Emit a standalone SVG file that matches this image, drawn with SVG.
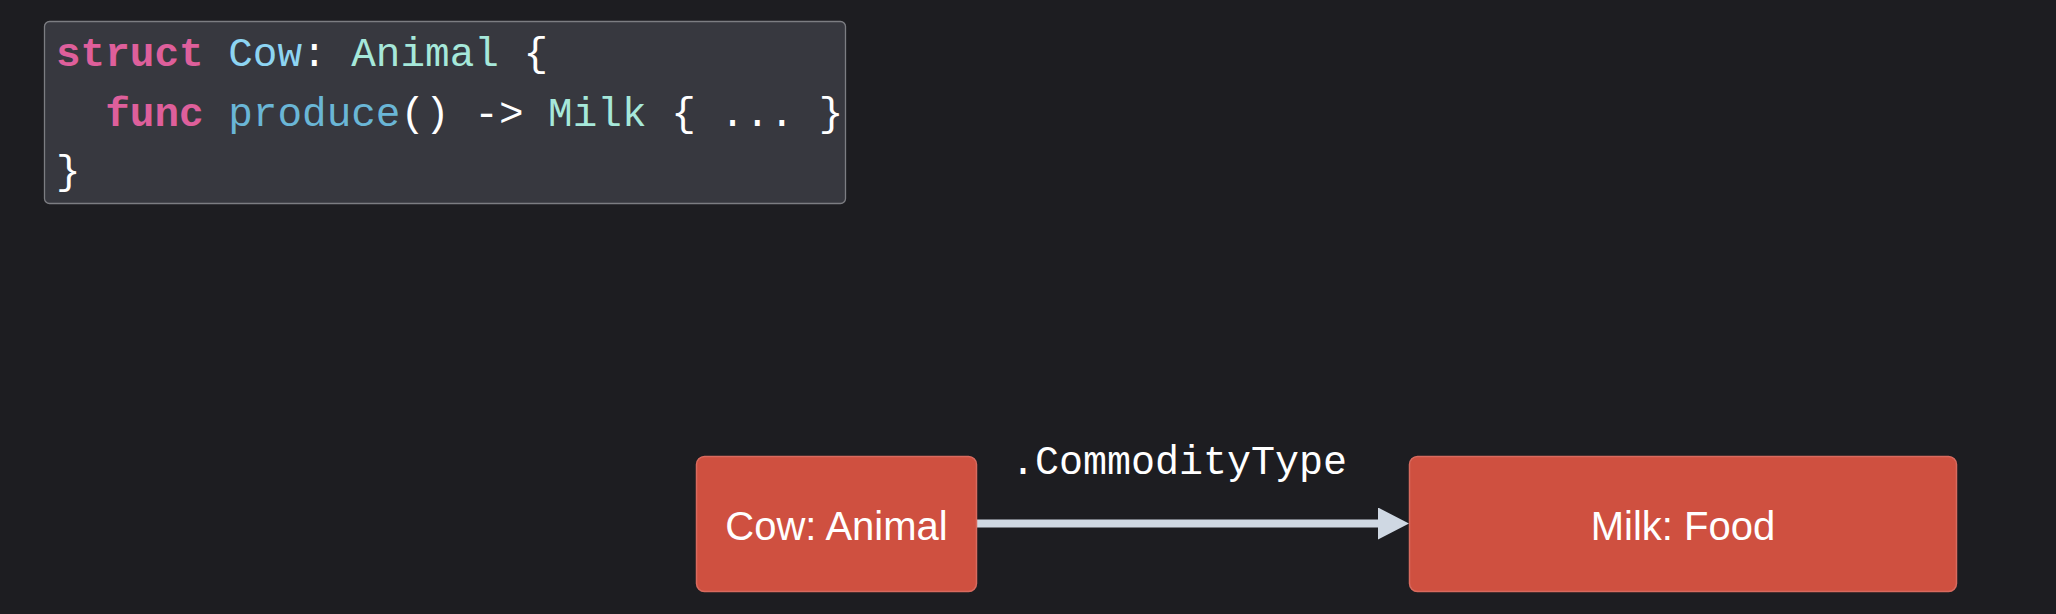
<svg xmlns="http://www.w3.org/2000/svg" width="2056" height="614" viewBox="0 0 2056 614">
<defs>
<style>
.code{font-family:"Liberation Mono","DejaVu Sans Mono",monospace;font-size:41px;fill:#ffffff;}
.kw{fill:#de5f9b;font-weight:bold;}
.ty{fill:#8dd4f2;}
.tr{fill:#a6e8da;}
.fn{fill:#6ab6d6;}
.node rect{fill:#cf5040;stroke:#d86a5e;stroke-width:1.5;}
.node text{font-family:"Liberation Sans","Arial",sans-serif;font-size:40px;fill:#ffffff;text-anchor:middle;}
.lbl{font-family:"Liberation Mono","DejaVu Sans Mono",monospace;font-size:40px;fill:#ffffff;}
</style>
<marker id="arr" markerWidth="32" markerHeight="32" refX="7" refY="16" orient="auto" markerUnits="userSpaceOnUse">
<path d="M0,0 L31,16 L0,32 Z" fill="#cfd8e3"/>
</marker>
</defs>
<rect width="2056" height="614" fill="#1d1d21"/>
<g id="code">
<rect x="44.5" y="21.5" width="801" height="182" rx="5" fill="#37383f" stroke="#7c7d82" stroke-width="1.3"/>
<text class="code" x="56" y="66" xml:space="preserve"><tspan class="kw">struct</tspan> <tspan class="ty">Cow</tspan>: <tspan class="tr">Animal</tspan> {</text>
<text class="code" x="56" y="126" xml:space="preserve">  <tspan class="kw">func</tspan> <tspan class="fn">produce</tspan>() -&gt; <tspan class="tr">Milk</tspan> { ... }</text>
<text class="code" x="56" y="184">}</text>
</g>
<g id="connectors">
<line x1="976" y1="523.5" x2="1385" y2="523.5" stroke="#cfd8e3" stroke-width="8" marker-end="url(#arr)"/>
<text class="lbl" x="1011" y="474">.CommodityType</text>
</g>
<g id="node-cow" class="node">
<rect x="696.5" y="456.5" width="280" height="135" rx="8"/>
<text x="836.5" y="539.5">Cow: Animal</text>
</g>
<g id="node-milk" class="node">
<rect x="1409.5" y="456.5" width="547" height="135" rx="8"/>
<text x="1683" y="539.5">Milk: Food</text>
</g>
</svg>
